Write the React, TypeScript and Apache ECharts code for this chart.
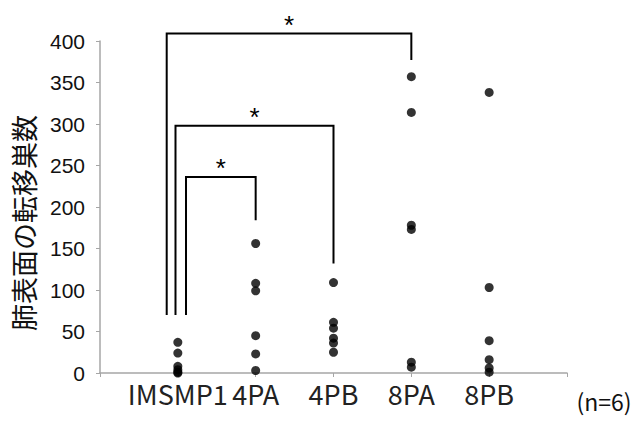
import React, { useEffect, useRef } from "react";
import * as echarts from "echarts";

const categories = ["IMSMP1", "4PA", "4PB", "8PA", "8PB"];
const imsmp1 = [37, 24, 8, 4, 1, 0];
const pa4 = [156, 108, 99, 45, 23, 3];
const pb4 = [109, 61, 54, 42, 36, 25];
const pa8 = [357, 314, 178, 173, 13, 7];
const pb8 = [338, 103, 39, 16, 6, 1];
const groups = [imsmp1, pa4, pb4, pa8, pb8];
const yTicks = [0, 50, 100, 150, 200, 250, 300, 350, 400];
// brackets: [xLeft, xRight, yTop, yLeftBottom, yRightBottom]
const brackets = [
  [0.857, 4, 409, 70, 377],
  [0.97, 3, 298, 70, 132],
  [1.105, 2, 236, 70, 184],
];
const bracketLabel = "*";
const yTitle = "肺表面の転移巣数";
const nNote = "(n=6)";

export default function App() {
  const ref = useRef<HTMLDivElement>(null);
  useEffect(() => {
    document.body.style.margin = "0";
    const chart = echarts.init(ref.current!, null, { renderer: "svg" });
    const points: number[][] = [];
    groups.forEach((vals, i) => vals.forEach((v) => points.push([i + 1, v])));
    chart.setOption({
      animation: false,
      grid: { left: 100, right: 70, top: 41, bottom: 48 },
      xAxis: {
        type: "value",
        min: 0,
        max: 6,
        interval: 1,
        splitLine: { show: false },
        axisLine: { show: true, lineStyle: { color: "#A6A6A6", width: 1.5 } },
        axisTick: { show: true, length: 4, lineStyle: { color: "#A6A6A6" } },
        axisLabel: {
          margin: 7,
          fontSize: 27,
          fontFamily: "Noto Sans CJK JP",
          color: "#222",
          formatter: (v: number) => (v >= 1 && v <= 5 ? categories[v - 1] : ""),
        },
      },
      yAxis: {
        type: "value",
        min: yTicks[0],
        max: yTicks[yTicks.length - 1],
        interval: 50,
        splitLine: { show: false },
        axisLine: { show: true, lineStyle: { color: "#A6A6A6", width: 1.5 } },
        axisTick: { show: true, length: 4, lineStyle: { color: "#A6A6A6" } },
        axisLabel: {
          margin: 15,
          fontSize: 21,
          fontFamily: "Liberation Sans",
          color: "#111",
        },
      },
      graphic: [
        {
          type: "text",
          x: 23,
          y: 223,
          rotation: Math.PI / 2,
          style: {
            text: yTitle,
            fontSize: 27,
            fontFamily: "Noto Sans CJK JP",
            fill: "#111",
            align: "center",
            verticalAlign: "middle",
          },
        },
        {
          type: "text",
          x: 604,
          y: 401,
          style: {
            text: nNote,
            fontSize: 23,
            fontFamily: "Noto Sans CJK JP",
            fill: "#111",
            align: "center",
            verticalAlign: "middle",
          },
        },
      ],
      series: [
        {
          type: "custom",
          clip: false,
          silent: true,
          data: brackets,
          renderItem: (params: any, api: any) => {
            const xl = api.value(0), xr = api.value(1), yt = api.value(2);
            const ylb = api.value(3), yrb = api.value(4);
            const p1 = api.coord([xl, ylb]);
            const p2 = api.coord([xl, yt]);
            const p3 = api.coord([xr, yt]);
            const p4 = api.coord([xr, yrb]);
            return {
              type: "group",
              children: [
                {
                  type: "polyline",
                  shape: { points: [p1, p2, p3, p4] },
                  style: { stroke: "#000", lineWidth: 2, fill: "none" },
                },
                {
                  type: "text",
                  x: (p2[0] + p3[0]) / 2,
                  y: p2[1] + 4,
                  style: {
                    text: bracketLabel,
                    fontSize: 26,
                    fontFamily: "Liberation Sans",
                    fill: "#000",
                    align: "center",
                    verticalAlign: "bottom",
                  },
                },
              ],
            };
          },
        },
        {
          type: "scatter",
          data: points,
          symbolSize: 9,
          itemStyle: { color: "#000" },
        },
      ],
    });
    return () => chart.dispose();
  }, []);
  return <div ref={ref} style={{ width: 637, height: 421 }} />;
}
